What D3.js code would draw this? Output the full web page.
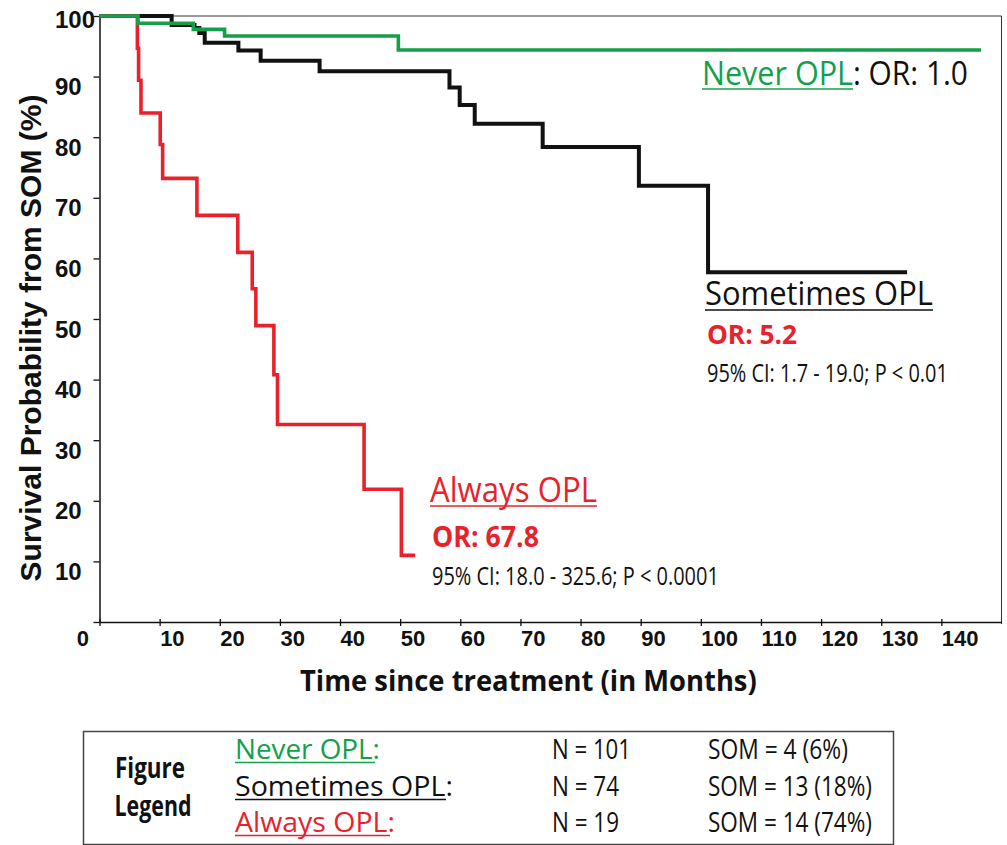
<!DOCTYPE html>
<html><head><meta charset="utf-8">
<script src="https://cdn.jsdelivr.net/npm/d3@7"></script>
<style>body{margin:0;background:#fff}svg{display:block}</style>
</head><body>
<svg id="c" width="1007" height="845"></svg>
<script>
// ---- data (months, survival %) ----
const neverTime = [0, 6.4, 15.6, 20.8, 49.7, 146.6];
const neverSurv = [100, 98.8, 97.8, 96.7, 94.4, 94.4];

const sometimesTime = [0, 12.0, 15.8, 16.6, 17.5, 23.1, 26.8, 36.6, 58.2, 59.9, 62.4, 73.7, 89.7, 101.2, 134.3];
const sometimesSurv = [100, 98.5, 98.0, 97.2, 95.6, 94.3, 92.6, 90.9, 88.2, 85.3, 82.2, 78.4, 72.0, 57.7, 57.7];

const alwaysTime = [0, 6.3, 6.5, 6.9, 10.1, 10.5, 16.2, 23.0, 25.4, 26.0, 29.0, 29.6, 44.0, 50.2, 52.5];
const alwaysSurv = [100, 94.7, 89.4, 84.0, 78.8, 73.2, 67.1, 61.0, 55.0, 48.9, 40.8, 32.6, 21.9, 11.0, 11.0];

const xTicks = [0, 10, 20, 30, 40, 50, 60, 70, 80, 90, 100, 110, 120, 130, 140];
const yTicks = [0, 10, 20, 30, 40, 50, 60, 70, 80, 90, 100];

const legendNames = ["Never OPL:", "Sometimes OPL:", "Always OPL:"];
const legendN = ["N = 101", "N = 74", "N = 19"];
const legendSOM = ["SOM = 4 (6%)", "SOM = 13 (18%)", "SOM = 14 (74%)"];

const GREEN = "#14a04b", RED = "#e8222b", BLACK = "#111";

const svg = d3.select("#c");
const x = d3.scaleLinear().domain([0, 150]).range([99.5, 1001.5]);
const y = d3.scaleLinear().domain([0, 100]).range([622, 16]);

// frame (top + right)
svg.append("line").attr("x1", x(0)).attr("x2", x(150)).attr("y1", y(100)).attr("y2", y(100))
  .attr("stroke", "#333").attr("stroke-width", 1);
svg.append("line").attr("x1", x(150)).attr("x2", x(150)).attr("y1", y(100)).attr("y2", y(0) + 2)
  .attr("stroke", "#333").attr("stroke-width", 1);

// x axis
const gx = svg.append("g").attr("transform", `translate(0,${y(0)})`)
  .call(d3.axisBottom(x).tickValues(xTicks).tickSizeOuter(0).tickFormat(d3.format("d")));
gx.select(".domain").attr("stroke", "#111").attr("stroke-width", 1.5);
gx.selectAll(".tick line").attr("y1", -3).attr("y2", 4).attr("stroke", "#111").attr("stroke-width", 1.3);
gx.selectAll(".tick text")
  .attr("font-family", "'Liberation Sans', Arial, sans-serif").attr("font-weight", "bold")
  .attr("font-size", 22).attr("fill", "#111")
  .attr("y", 24).attr("dy", 0)
  .attr("text-anchor", d => d === 0 ? "end" : "start")
  .attr("x", d => d === 0 ? -11 : 0);

// y axis
const gy = svg.append("g").attr("transform", `translate(${x(0)},0)`)
  .call(d3.axisLeft(y).tickValues(yTicks).tickSize(6).tickSizeOuter(0)
    .tickFormat(d => d === 0 ? "" : d));
gy.select(".domain").attr("stroke", "#111").attr("stroke-width", 1.5);
gy.selectAll(".tick line").attr("stroke", "#111").attr("stroke-width", 1.3);
gy.selectAll(".tick text")
  .attr("font-family", "'Liberation Sans', Arial, sans-serif").attr("font-weight", "bold")
  .attr("font-size", 24).attr("fill", "#111")
  .attr("text-anchor", "start").attr("x", 55 - x(0))
  .attr("dy", 0).attr("y", d => d === 100 ? 11 : 18);

// curves
const line = d3.line().x(d => x(d[0])).y(d => y(d[1])).curve(d3.curveStepAfter);
const series = [
  { t: sometimesTime, s: sometimesSurv, c: BLACK, w: 4 },
  { t: alwaysTime, s: alwaysSurv, c: RED, w: 3.6 },
  { t: neverTime, s: neverSurv, c: GREEN, w: 3.6 }
];
series.forEach(sr => {
  svg.append("path").datum(d3.zip(sr.t, sr.s)).attr("d", line)
    .attr("fill", "none").attr("stroke", sr.c).attr("stroke-width", sr.w)
    .attr("stroke-linejoin", "miter").attr("stroke-linecap", "butt");
});

// helper for text: fits the text to a target width by a horizontal scale
const SANS = "'Open Sans', 'Noto Sans', sans-serif";
function txt(s, px, py, opt) {
  const t = svg.append("text").attr("x", 0).attr("y", 0).text(s)
    .attr("font-family", opt.family || SANS)
    .attr("font-size", opt.size).attr("fill", opt.fill || "#111")
    .attr("font-weight", opt.bold ? "bold" : "normal");
  if (opt.anchor) t.attr("text-anchor", opt.anchor);
  let k = 1;
  if (opt.len) {
    const w = t.node().getComputedTextLength();
    if (w > 0) k = opt.len / w;
  }
  t.attr("transform", `translate(${px},${py})${opt.rot ? ` rotate(${opt.rot})` : ""} scale(${k},1)`);
  return t;
}
function uline(x1, x2, yy, c, w) {
  svg.append("line").attr("x1", x1).attr("x2", x2).attr("y1", yy).attr("y2", yy)
    .attr("stroke", c).attr("stroke-width", w || 1.6);
}

// axis titles
txt("Survival Probability from SOM  (%)", 41, 338, { size: 30, bold: true, len: 487,
  family: "'Liberation Sans', Arial, sans-serif", anchor: "middle", rot: -90 });
txt("Time since treatment (in Months)", 300, 691, { size: 29, bold: true, len: 457 });

// in-plot annotations
txt("Never OPL", 702, 85, { size: 32, fill: GREEN, len: 151 });
txt(": OR: 1.0", 853, 85, { size: 32, len: 115 });
uline(702, 853, 89, GREEN);

txt("Sometimes OPL", 705, 305, { size: 33, len: 228 });
uline(705, 933, 310, BLACK);
txt("OR: 5.2", 707, 344, { size: 27, bold: true, fill: RED, len: 90 });
txt("95% CI: 1.7 - 19.0; P < 0.01", 707, 382, { size: 26, len: 241 });

txt("Always OPL", 430, 502, { size: 34, fill: RED, len: 167 });
uline(430, 597, 506, RED);
txt("OR: 67.8", 432, 547, { size: 28, bold: true, fill: RED, len: 107 });
txt("95% CI: 18.0 - 325.6; P < 0.0001", 432, 585, { size: 26, len: 287 });

// figure legend box
svg.append("rect").attr("x", 83.5).attr("y", 731.5).attr("width", 810).attr("height", 113)
  .attr("fill", "none").attr("stroke", "#444").attr("stroke-width", 1.5);
txt("Figure", 150, 778, { size: 29, bold: true, len: 70, anchor: "middle" });
txt("Legend", 153, 816, { size: 29, bold: true, len: 77, anchor: "middle" });

const nameColors = [GREEN, BLACK, RED];
const nameLens = [145, 218, 160];
const ulLens = [140, 211, 155];
const nLens = [79, 67, 67];
const somLens = [140, 164, 164];
const rowBase = [759, 796, 832];
legendNames.forEach((nm, i) => {
  txt(nm, 235, rowBase[i], { size: 28, fill: nameColors[i], len: nameLens[i] });
  uline(235, 235 + ulLens[i], rowBase[i] + 3.5, nameColors[i], 1.6);
  txt(legendN[i], 552, rowBase[i], { size: 28, len: nLens[i] });
  txt(legendSOM[i], 708, rowBase[i], { size: 28, len: somLens[i] });
});
</script>
</body></html>
